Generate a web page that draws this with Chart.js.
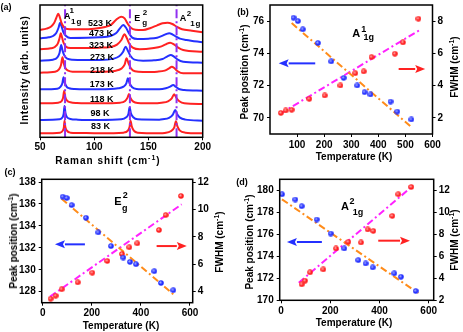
<!DOCTYPE html>
<html><head><meta charset="utf-8">
<script src="https://cdn.jsdelivr.net/npm/chart.js@4/dist/chart.umd.min.js"></script>
<style>
html,body{margin:0;padding:0;background:#fff;}
#wrap{position:relative;width:463px;height:332px;overflow:hidden;font-family:'Liberation Sans',Arial,sans-serif;}
canvas{position:absolute;}
.t{position:absolute;transform:translate(-50%,-50%);white-space:nowrap;font-weight:bold;font-size:10px;line-height:1;color:#000;}
.v{transform:translate(-50%,-50%) rotate(-90deg);}
.t sup{font-size:7px;vertical-align:0;position:relative;top:-4px;}
</style></head><body><div id="wrap">
<canvas id="ca" width="232" height="166" style="left:0;top:0"></canvas>
<canvas id="cb" width="231" height="166" style="left:232px;top:0"></canvas>
<canvas id="cc" width="232" height="166" style="left:0;top:166px"></canvas>
<canvas id="cd" width="231" height="166" style="left:232px;top:166px"></canvas>
</div>
<script>
// ---------- DATA ----------
// (a) Raman spectra: Raman shift (cm-1) and intensity (arb. units, vertically offset)
const spectraLabels = ['523 K','473 K','323 K','273 K','218 K','173 K','118 K','98 K','83 K'];
const shift523 = [50,56,60,63,65,66.8,68.3,70,72,75,90,100,110,116,120,124.8,128,131,134,138,145,152,158,163,167.5,172,176,181,190,200];
const int523   = [32.2,32.6,33.2,34.3,35.8,37.1,36.0,34.2,33.1,32.5,32.4,32.6,33.1,33.9,35.2,36.2,35.7,34.0,32.8,32.3,32.2,32.8,33.6,34.2,34.4,34.0,33.2,32.4,32.0,31.5];
const shift473 = [50,58,62,65,67,68.6,70,71.5,74,78,105,115,120,123.5,126.7,129.5,132,135,140,150,158,163,166.5,169.1,172,175,179,185,200];
const int473   = [29.7,30.0,30.4,31.3,32.8,34.4,33.2,31.6,30.4,29.8,30.0,30.4,31.2,32.6,33.7,32.8,31.2,29.9,29.5,29.6,29.9,30.5,31.0,31.2,30.9,30.3,29.6,29.2,28.5];
const shift323 = [50,60,64,66.5,68,69.2,70.3,71.8,74,78,105,115,121,125,127.9,130,132.5,135.5,142,155,162,166,170,173.5,177,182,200];
const int323   = [26.4,26.7,27.2,28.2,29.7,31.2,30.0,28.3,27.2,26.8,26.9,27.1,27.8,29.2,30.9,29.8,28.0,26.9,26.4,26.8,27.3,27.9,28.4,27.9,27.0,26.2,25.7];
const shift273 = [50,62,66,68,69.5,70.8,72.5,75,80,105,118,123,126.5,128.9,131,133.5,137,145,155,163,167.5,170.6,173.5,177,182,200];
const int273   = [23.0,23.3,24.0,25.3,27.7,26.0,24.5,23.6,23.3,23.2,23.6,24.3,25.6,27.2,26.0,24.4,23.3,23.0,23.1,23.5,24.3,24.7,24.2,23.3,22.7,22.4];
const shift218 = [50,64,67.5,69.3,70.7,71.8,73.5,76,80,105,120,125,128,129.8,131.5,134,137.5,145,158,165,169,171.6,174,177,182,200];
const int218   = [19.4,19.7,20.4,21.6,24.0,22.3,20.7,20.0,19.7,19.7,20.0,20.6,21.8,23.7,22.3,20.6,19.8,19.6,19.7,20.0,20.7,21.2,20.7,19.8,19.2,19.2];
const shift173 = [50,66,69,70.6,71.7,72.8,74.5,77,82,105,122,127,129.6,131,132.5,135,139,150,160,166,170,172.8,175,178,183,200];
const int173   = [14.4,14.6,15.2,16.2,18.0,16.4,15.2,14.7,14.5,14.4,14.7,15.2,16.2,17.7,16.3,15.0,14.5,14.4,14.4,14.7,15.2,15.7,15.2,14.5,14.2,14.0];
const shift118 = [50,67,70,71.3,72.3,73.3,75,78,84,105,124,128.5,130.7,132,133.4,136,140,155,162,168,171.5,173.7,175.8,178.5,183,200];
const int118   = [10.2,10.4,10.9,11.9,14.0,12.1,11.0,10.5,10.3,10.2,10.4,10.9,11.9,13.0,11.8,10.7,10.3,10.2,10.4,10.8,11.7,12.9,11.8,10.8,10.2,10.0];
const shift98  = [50,68,70.8,71.8,72.6,73.5,75,78,85,105,125,129.5,131.5,132.6,133.8,136,140,160,163,169,172.5,174.7,176.5,179,184,200];
const int98    = [5.2,5.4,6.0,7.0,9.4,7.2,6.0,5.5,5.3,5.2,5.4,6.0,7.0,9.0,7.2,6.0,5.4,5.3,5.4,5.8,6.8,8.2,6.9,5.9,5.3,5.0];
const shift83  = [50,68.5,71,72,72.6,73.3,74.8,78,85,105,127,131,132.6,133.5,134.5,136.5,140,160,165,170.5,173.8,175.3,176.8,179,184,200];
const int83    = [1.2,1.4,2.0,3.0,5.0,3.2,2.0,1.4,1.3,1.2,1.4,2.0,3.2,5.0,3.4,2.0,1.4,1.2,1.3,1.8,3.0,4.8,3.2,2.0,1.4,1.2];
const modePositions = [73.1, 132.9, 175.9];   // A1g(1), Eg(2), A1g(2)
const xTicksA = [50,100,150,200];

// (b) A1g(1)
const tempPosB = [87,103,121,177,226,272,322,349,371,445,470,522];
const peakPosB = [76.21,76.0,75.49,74.64,73.50,72.48,72.01,71.59,71.45,71.01,70.39,69.90];
const tempFwB  = [40,58,80,145,202,260,315,346,375,461,491,548];
const fwhmB    = [2.31,2.46,2.50,3.18,3.39,4.01,4.77,4.88,5.77,5.98,6.68,8.15];
const fitPosTB = [80,520],  fitPosB = [75.88,69.46];
const fitFwTB  = [37,550],  fitFwB  = [2.25,7.42];
const xTicksB = [100,200,300,400,500,600], yTicksB = [70,72,74,76], y2TicksB = [2,4,6,8];

// (c) Eg(2)
const tempPosC = [81.5,97.8,118.1,176.4,226.5,278.2,328.3,355.6,380,454.5,481.8,531.9];
const peakPosC = [136.66,136.54,135.9,134.74,133.41,132.16,131.12,130.72,130.51,129.87,128.80,128.14];
const tempFwC  = [32.6,52.9,77.4,142.6,202.0,263.1,323.0,352.7,385.3,473.7,501,563.3];
const fwhmC    = [3.47,3.69,4.16,4.67,5.37,6.23,6.74,7.23,7.52,8.49,9.59,10.98];
const fitPosTC = [77,532],  fitPosC = [136.48,127.77];
const fitFwTC  = [30,566],  fitFwC  = [3.62,10.37];
const xTicksC = [0,200,400,600], yTicksC = [128,130,132,134,136,138], y2TicksC = [4,6,8,10,12];

// (d) A1g(2)
const tempPosD = [4.1,58.1,84.1,145,201.9,257.1,314,344,372.5,460.2,487.4,547.2];
const peakPosD = [179.64,179.16,178.55,177.34,176.07,174.71,173.65,173.35,172.99,172.45,172.14,170.84];
const tempFwD  = [84.1,97.5,117.8,171.8,223.4,273.4,325,352.2,374.9,452.1,476.5,529.3];
const fwhmD    = [3.45,3.78,4.54,4.81,6.71,7.31,7.26,8.44,8.31,9.67,11.64,12.30];
const fitPosTD = [4,558],   fitPosD = [179.18,170.64];
const fitFwTD  = [72,524],  fitFwD  = [3.6,12.18];
const xTicksD = [0,200,400,600], yTicksD = [170,172,174,176,178,180], y2TicksD = [2,4,6,8,10,12];

// ---------- STYLE / HELPERS ----------
const BLUE='#2430ff', RED='#ff2222', ORANGE='#ff8c1a', MAGENTA='#ff22ff', VIOLET='#9030f0';
const FONT = {family:"'Liberation Sans', Arial, sans-serif", weight:'bold', size:10};
const pts = (xs, ys) => xs.map((x,i)=>({x, y: ys[i]}));

function ball(core, hi){
  const c=document.createElement('canvas'); c.width=6; c.height=6;
  const g=c.getContext('2d');
  const gr=g.createRadialGradient(2.2,2.2,0.2,3,3,3);
  gr.addColorStop(0,hi); gr.addColorStop(0.55,core); gr.addColorStop(1,core);
  g.fillStyle=gr; g.beginPath(); g.arc(3,3,2.8,0,Math.PI*2); g.fill();
  return c;
}
const blueBall = ball(BLUE,'#aab4ff'), redBall = ball(RED,'#ffb0b0');

const framePlugin = {
  id:'frame',
  afterDraw(chart){
    const {ctx, chartArea:a} = chart;
    ctx.save(); ctx.strokeStyle='#000'; ctx.lineWidth=1.5;
    ctx.strokeRect(a.left, a.top, a.right-a.left, a.bottom-a.top);
    ctx.restore();
  }
};
const arrowDefs = {};
const arrowPlugin = {
  id:'arrows',
  afterDatasetsDraw(chart){
    const defs = arrowDefs[chart.canvas.id] || [];
    const ctx = chart.ctx, xs = chart.scales.x;
    defs.forEach(d=>{
      const ys = chart.scales[d.axis];
      const x1 = xs.getPixelForValue(d.from), x2 = xs.getPixelForValue(d.to), y = ys.getPixelForValue(d.at);
      const dir = Math.sign(x2-x1), head = 10;
      ctx.save(); ctx.strokeStyle=d.color; ctx.fillStyle=d.color; ctx.lineWidth=2;
      ctx.beginPath(); ctx.moveTo(x1,y); ctx.lineTo(x2-dir*head,y); ctx.stroke();
      ctx.beginPath(); ctx.moveTo(x2,y); ctx.lineTo(x2-dir*head,y-4); ctx.lineTo(x2-dir*head+dir*2,y); ctx.lineTo(x2-dir*head,y+4); ctx.closePath(); ctx.fill();
      ctx.restore();
    });
  }
};

function fixed(size, isX){
  return s => { if(isX) s.height=size; else s.width=size; s.paddingLeft=0; s.paddingRight=0; s.paddingTop=0; s.paddingBottom=0; };
}
function axis(opts){
  return {
    type:'linear', min:opts.min, max:opts.max, position:opts.position,
    afterBuildTicks: a => { a.ticks = opts.ticks.map(v=>({value:v})); },
    afterFit: fixed(opts.size, opts.isX),
    ticks:{display:opts.showLabels!==false, font:FONT, color:'#000', padding:opts.pad||2, maxRotation:0, autoSkip:false},
    grid:{display:opts.showLabels!==false, drawOnChartArea:false, drawTicks:true, tickLength:3, color:'#000', lineWidth:1},
    border:{display:false}
  };
}
const baseOpts = (padTop) => ({
  responsive:false, animation:false, devicePixelRatio:1,
  layout:{padding:{top:padTop, left:0, right:0, bottom:0}},
  plugins:{legend:{display:false}, tooltip:{enabled:false}}
});

// ---------- (a) spectra ----------
const spectra = [[shift523,int523],[shift473,int473],[shift323,int323],[shift273,int273],[shift218,int218],[shift173,int173],[shift118,int118],[shift98,int98],[shift83,int83]];
const dsA = spectra.map((s,i)=>({
  label:spectraLabels[i], data:pts(s[0],s[1]), showLine:true, pointRadius:0,
  borderColor: i%2===0?RED:BLUE, borderWidth:2, cubicInterpolationMode:'monotone', fill:false
}));
modePositions.forEach(m=>dsA.push({data:[{x:m,y:0},{x:m,y:39.7}], showLine:true, pointRadius:0, borderColor:VIOLET, borderWidth:2, borderDash:[9,3,2,3], order:-1}));
const optsA = baseOpts(5); optsA.layout.padding.right = 29.3;
optsA.scales = {
  x: axis({min:50,max:200,ticks:xTicksA,size:28.7,isX:true,pad:1}),
  y: axis({min:0,max:39.7,ticks:[],size:40,showLabels:false,position:'left'})
};
new Chart(document.getElementById('ca'), {type:'scatter', data:{datasets:dsA}, options:optsA, plugins:[framePlugin]});

// ---------- (b)-(d) ----------
function tempChart(id, d){
  const ds = [
    {data:pts(d.tp,d.pp), yAxisID:'y', pointStyle:blueBall, pointRadius:3, order:-1},
    {data:pts(d.tf,d.fw), yAxisID:'y2', pointStyle:redBall, pointRadius:3, order:-1},
    {data:pts(d.ftp,d.fp), yAxisID:'y', showLine:true, pointRadius:0, borderColor:ORANGE, borderWidth:2, borderDash:[7,3,2,3]},
    {data:pts(d.ftf,d.ff), yAxisID:'y2', showLine:true, pointRadius:0, borderColor:MAGENTA, borderWidth:2, borderDash:[7,3,2,3]}
  ];
  const o = baseOpts(d.top);
  o.scales = {
    x: axis({min:d.x[0],max:d.x[1],ticks:d.xt,size:d.xh,isX:true,pad:d.xpad}),
    y: axis({min:d.y[0],max:d.y[1],ticks:d.yt,size:d.yw,position:'left',pad:3}),
    y2: axis({min:d.y2[0],max:d.y2[1],ticks:d.y2t,size:d.y2w,position:'right',pad:2})
  };
  new Chart(document.getElementById(id), {type:'scatter', data:{datasets:ds}, options:o, plugins:[arrowPlugin, framePlugin]});
}
arrowDefs.cb = [{axis:'y', from:167, to:32, at:73.38, color:BLUE},{axis:'y2', from:475, to:573, at:5.03, color:RED}];
arrowDefs.cc = [{axis:'y', from:172, to:50, at:132.32, color:BLUE},{axis:'y2', from:464, to:587, at:7.32, color:RED}];
arrowDefs.cd = [{axis:'y', from:166, to:24, at:175.3, color:BLUE},{axis:'y2', from:395, to:524, at:7.42, color:RED}];

tempChart('cb', {tp:tempPosB, pp:peakPosB, tf:tempFwB, fw:fwhmB, ftp:fitPosTB, fp:fitPosB, ftf:fitFwTB, ff:fitFwB,
  x:[0,600], xt:xTicksB, y:[69,77], yt:yTicksB, y2:[1,9], y2t:y2TicksB, top:5, xh:32, yw:38, y2w:30.5, xpad:2});
tempChart('cc', {tp:tempPosC, pp:peakPosC, tf:tempFwC, fw:fwhmC, ftp:fitPosTC, fp:fitPosC, ftf:fitFwTC, ff:fitFwC,
  x:[-4,611], xt:xTicksC, y:[127,138.25], yt:yTicksC, y2:[3.18,12.2], y2t:y2TicksC, top:13.3, xh:29.3, yw:41.7, y2w:39.3, xpad:0});
tempChart('cd', {tp:tempPosD, pp:peakPosD, tf:tempFwD, fw:fwhmD, ftp:fitPosTD, fp:fitPosD, ftf:fitFwTD, ff:fitFwD,
  x:[-5.3,620.3], xt:xTicksD, y:[170,181], yt:yTicksD, y2:[2,13], y2t:y2TicksD, top:13.3, xh:31.7, yw:47.7, y2w:29.3, xpad:0});

// ---------- TEXT ----------
const wrap = document.getElementById('wrap');
function txt(x,y,html,extra,vertical){
  const e=document.createElement('div'); e.className='t'+(vertical?' v':''); e.innerHTML=html;
  e.style.left=x+'px'; e.style.top=y+'px'; if(extra) e.style.cssText+=extra; wrap.appendChild(e);
}
// panel letters
txt(6,7,'(a)','font-size:9px'); txt(243,12,'(b)','font-size:9px'); txt(10,171.5,'(c)','font-size:9px'); txt(242,181.5,'(d)','font-size:9px');
// (a)
txt(25,70,'Intensity (arb. units)','letter-spacing:0.6px',true);
txt(108,160.5,'Raman shift (cm<sup>-1</sup>)','letter-spacing:1px');
const tempLabelPos = [[100,23.3],[101,33.3],[101,45],[102,57.3],[102,70],[101.7,84.3],[101.7,98.7],[100,112.7],[100.5,126]];
spectraLabels.forEach((l,i)=>txt(tempLabelPos[i][0],tempLabelPos[i][1],l,'font-size:9px'));
txt(67.2,15.8,'A','font-size:9px'); txt(71.7,11.2,'1','font-size:8px'); txt(76.7,21.7,'1g','font-size:8px;letter-spacing:1px');
txt(137.2,17.5,'E','font-size:9px'); txt(145,12.5,'2','font-size:8px'); txt(144.7,22.5,'g','font-size:8px');
txt(183,18.3,'A','font-size:9px'); txt(189,13.5,'2','font-size:8px'); txt(195.8,24.2,'1g','font-size:8px;letter-spacing:1px');
// (b)
txt(354,157,'Temperature (K)');
txt(245.3,72,'Peak position (cm<sup>-1</sup>)','',true);
txt(454.5,67,'FWHM (cm<sup>-1</sup>)','',true);
txt(356.2,33.3,'A','font-size:11px'); txt(363.8,28.8,'1','font-size:9px'); txt(368.7,37,'1g','font-size:9px');
// (c)
txt(121,326,'Temperature (K)');
txt(13.5,241,'Peak position (cm<sup>-1</sup>)','',true);
txt(220,242,'FWHM (cm<sup>-1</sup>)','',true);
txt(117.8,201,'E','font-size:11px'); txt(125.3,195,'2','font-size:9px'); txt(124.7,207.8,'g','font-size:9px');
// (d)
txt(354,323,'Temperature (K)');
txt(250.3,242,'Peak position (cm<sup>-1</sup>)','',true);
txt(455.3,240,'FWHM (cm<sup>-1</sup>)','',true);
txt(345,206,'A','font-size:11px'); txt(352,200.7,'2','font-size:9px'); txt(358,211.7,'1g','font-size:9px');
</script></body></html>
